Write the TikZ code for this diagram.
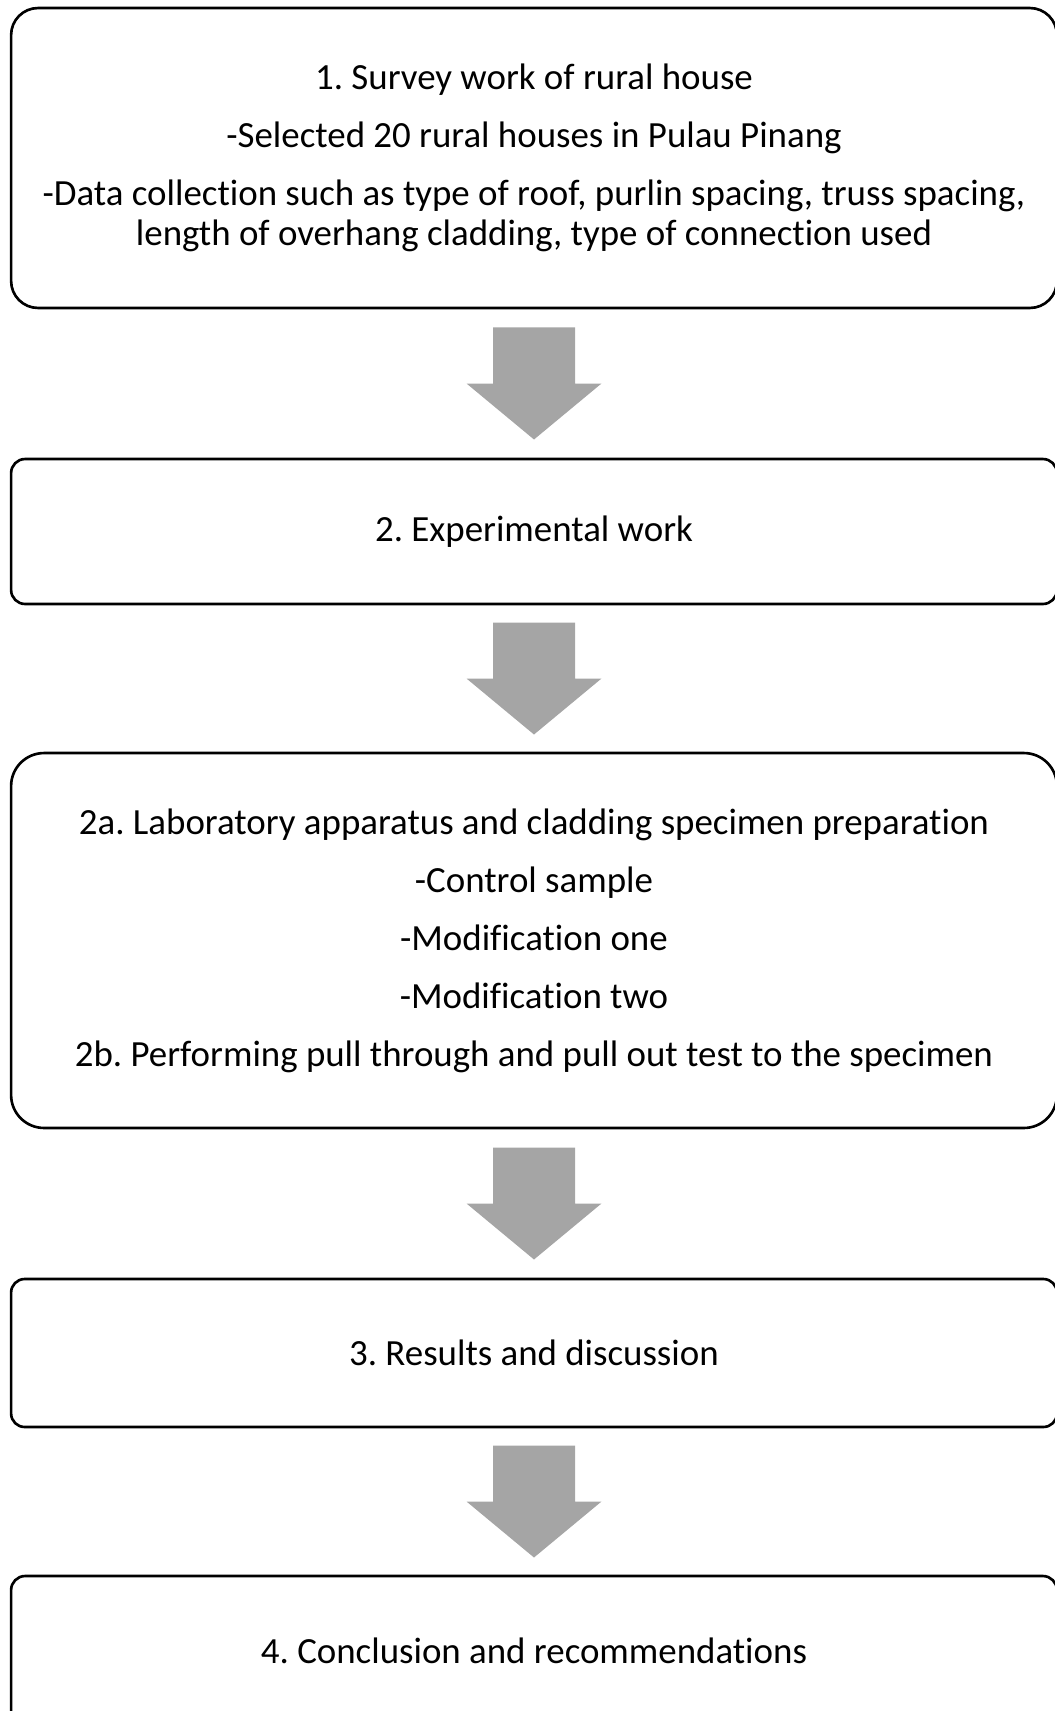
\documentclass[tikz,border=0pt]{standalone}
\usepackage{fontspec}
\setmainfont{Carlito}[Ligatures={NoCommon}]
\usetikzlibrary{calc}
\definecolor{arrowgray}{HTML}{A5A5A5}
\frenchspacing

\begin{document}
\begin{tikzpicture}[
    x=0.02cm, y=-0.02cm,
    every node/.style={font=\fontsize{21}{22.8}\selectfont},
    stagebox/.style={rectangle, draw, line width=1.5pt, outer sep=0pt, inner sep=0pt,
        minimum width=20.92cm, align=center},
    downarrow/.pic={\fill[arrowgray] (-41,-56) -- (41,-56) -- (41,0) -- (67.5,0)
        -- (0,56) -- (-67.5,0) -- (-41,0) -- cycle;}
]
\useasboundingbox (0,0) rectangle (1055,1711);
\clip (0,0) rectangle (1055,1711);

% stages
\node[stagebox, minimum height=6cm, rounded corners=0.54cm] (survey) at (534,158)
    {1. Survey work of rural house\\[0.36cm]
     -Selected 20 rural houses in Pulau Pinang\\[0.36cm]
     -Data collection such as type of roof, purlin spacing, truss spacing,\\
     length of overhang cladding, type of connection used};
\node[stagebox, minimum height=2.9cm, rounded corners=0.28cm] (experiment) at (534,531.5)
    {2. Experimental work};
\node[stagebox, minimum height=7.5cm, rounded corners=0.66cm] (labwork) at (534,940.5)
    {2a. Laboratory apparatus and cladding specimen preparation\\[0.36cm]
     -Control sample\\[0.36cm]
     -Modification one\\[0.36cm]
     -Modification two\\[0.36cm]
     2b. Performing pull through and pull out test to the specimen};
\node[stagebox, minimum height=2.96cm, rounded corners=0.27cm] (results) at (534,1353)
    {3. Results and discussion};
\node[stagebox, minimum height=3cm, rounded corners=0.28cm] (conclusion) at (534,1651)
    {4. Conclusion and recommendations};

% block arrows between stages
\pic at ($(survey.south)!0.5!(experiment.north)$) {downarrow};
\pic at ($(experiment.south)!0.5!(labwork.north)$) {downarrow};
\pic at ($(labwork.south)!0.5!(results.north)$) {downarrow};
\pic at ($(results.south)!0.5!(conclusion.north)$) {downarrow};

\end{tikzpicture}
\end{document}
